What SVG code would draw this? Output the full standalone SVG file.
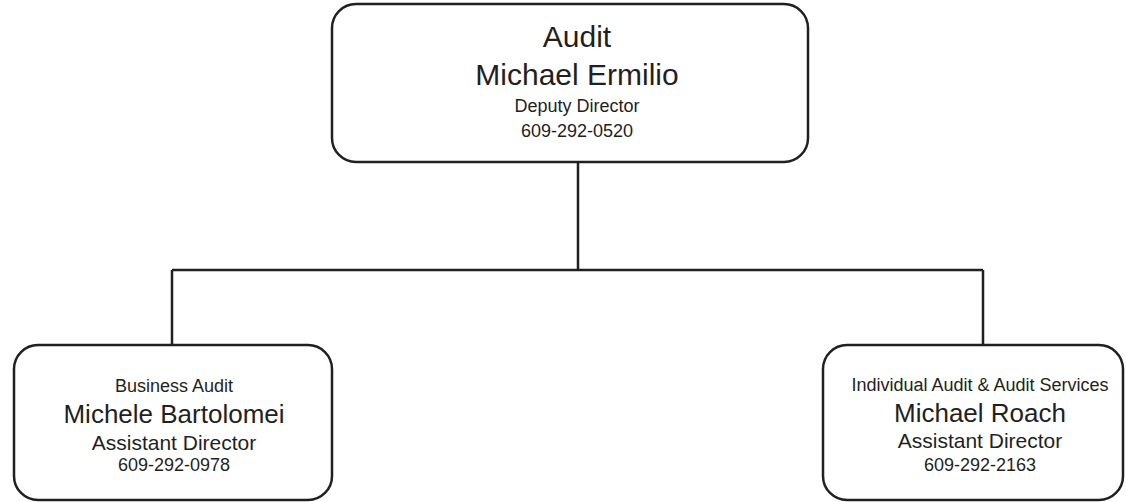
<svg xmlns="http://www.w3.org/2000/svg" width="1126" height="502" viewBox="0 0 1126 502">
<style>
.box{fill:#fff;stroke:#231f20;stroke-width:2.5}
.conn{fill:none;stroke:#231f20;stroke-width:2.5}
text{font-family:"Liberation Sans",Arial,sans-serif;fill:#231f20;text-anchor:middle}
.big{font-size:30px}
.name{font-size:26px}
.title{font-size:21px}
.small{font-size:18px}
</style>
<rect width="1126" height="502" fill="#fff"/>
<g id="connectors">
<path class="conn" d="M578,162 V270 M172,270 H983 M172,270 V345 M983,270 V345"/>
</g>
<g id="audit">
<rect class="box" x="332" y="4" width="476" height="158" rx="24"/>
<text class="big" x="577" y="47">Audit</text>
<text class="big" x="577" y="85">Michael Ermilio</text>
<text class="small" x="577" y="112">Deputy Director</text>
<text class="small" x="577" y="137">609-292-0520</text>
</g>
<g id="business-audit">
<rect class="box" x="14" y="345" width="318" height="155" rx="24"/>
<text class="small" x="174" y="392">Business Audit</text>
<text class="name" x="174" y="423">Michele Bartolomei</text>
<text class="title" x="174" y="450">Assistant Director</text>
<text class="small" x="174" y="471">609-292-0978</text>
</g>
<g id="individual-audit">
<rect class="box" x="823" y="345" width="300" height="155" rx="24"/>
<text class="small" x="980" y="391">Individual Audit &amp; Audit Services</text>
<text class="name" x="980" y="422">Michael Roach</text>
<text class="title" x="980" y="448">Assistant Director</text>
<text class="small" x="980" y="471">609-292-2163</text>
</g>
</svg>
